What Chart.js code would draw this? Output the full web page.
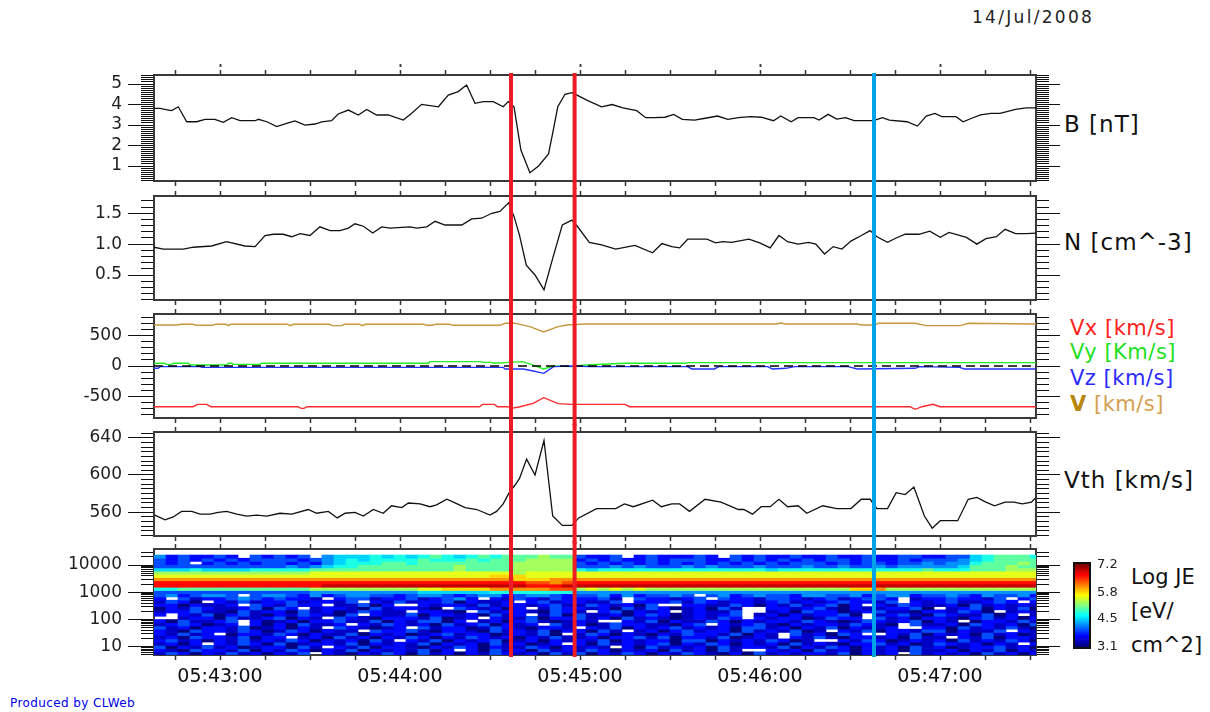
<!DOCTYPE html>
<html>
<head>
<meta charset="utf-8">
<script src="https://cdn.jsdelivr.net/npm/chart.js@4.4.1/dist/chart.umd.min.js"></script>
<style>
  html,body{margin:0;padding:0;background:#fff;}
  #page{position:relative;width:1210px;height:712px;overflow:hidden;background:#fff;font-family:'DejaVu Sans',sans-serif;}
  #page canvas{position:absolute;}
  .t{position:absolute;white-space:nowrap;line-height:1;}
</style>
</head>
<body>
<div id="page">
  <div class="t" style="left:972px;top:9px;font-size:17px;letter-spacing:2.3px;color:#222">14/Jul/2008</div>
  <div class="t" style="left:1064px;top:113px;font-size:23px;letter-spacing:1px;color:#111">B [nT]</div>
  <div class="t" style="left:1064px;top:231px;font-size:23px;letter-spacing:1px;color:#111">N [cm^-3]</div>
  <div class="t" style="left:1070px;top:318px;font-size:21px;letter-spacing:0.5px;color:#ff2020">Vx [km/s]</div>
  <div class="t" style="left:1070px;top:342px;font-size:21px;letter-spacing:0.5px;color:#22e022">Vy [Km/s]</div>
  <div class="t" style="left:1070px;top:368px;font-size:21px;letter-spacing:0.5px;color:#2a2aff">Vz [km/s]</div>
  <div class="t" style="left:1070px;top:394px;font-size:21px;letter-spacing:0.5px;color:#d4a050"><b style="color:#b8860b">V</b> [km/s]</div>
  <div class="t" style="left:1064px;top:469px;font-size:23px;letter-spacing:1px;color:#111">Vth [km/s]</div>
  <div class="t" style="left:1131px;top:567px;font-size:21px;color:#111">Log JE</div>
  <div class="t" style="left:1131px;top:601px;font-size:21px;color:#111">[eV/</div>
  <div class="t" style="left:1131px;top:635px;font-size:21px;color:#111">cm^2]</div>
  <div class="t" style="left:10px;top:697px;font-size:12px;letter-spacing:0.4px;color:#0000ee">Produced by CLWeb</div>
</div>
<script>
// ---------------- DATA ----------------
// time in seconds after 05:42:00
const timeTicks = [60, 120, 180, 240, 300];
const timeTickLabels = ['05:43:00', '05:44:00', '05:45:00', '05:46:00', '05:47:00'];

const bTime = [38,40,42.8,43.9,46.1,48.9,52.2,55,58.3,61.1,63.9,66.7,71.7,72.8,75.6,78.9,82.2,85,88.3,91.7,93.9,97.2,99.4,102.8,106.1,108.9,112.2,116.1,121.1,123.9,127.2,132.8,136.1,139.4,142.2,145,147.8,151.1,154.4,156.1,158,160.3,163.3,166.2,169.5,170.9,172.6,175,177.3,179,182.6,187.2,190.7,194.3,198.9,201.9,204.8,208.3,211.2,214.1,218.2,221.7,225.8,229.3,232.8,236.9,240.4,244.5,246.9,250.4,252.7,258,259.7,262.7,265.6,268.5,271.4,277.9,280.8,283.1,289,292.5,295.4,298.3,300.6,305.3,307.7,310.6,313.5,317,320,325.2,328.7,332];
const bVal = [3.81,3.81,3.73,3.70,3.89,3.16,3.16,3.28,3.28,3.13,3.36,3.21,3.21,3.28,3.16,2.92,3.08,3.20,3.00,3.05,3.15,3.21,3.54,3.73,3.49,3.76,3.49,3.49,3.24,3.57,4.01,3.89,4.46,4.63,4.95,4.06,4.14,4.14,3.89,4.14,3.89,1.78,0.67,1.0,1.59,2.6,3.89,4.5,4.58,4.46,4.19,3.89,4.0,3.84,3.7,3.36,3.36,3.38,3.52,3.28,3.24,3.33,3.44,3.28,3.36,3.41,3.38,3.21,3.44,3.16,3.36,3.36,3.24,3.52,3.29,3.36,3.21,3.21,3.36,3.24,3.16,2.95,3.44,3.57,3.41,3.41,3.16,3.33,3.49,3.57,3.57,3.76,3.84,3.84];
const bTicks = [1, 2, 3, 4, 5];
const bTickLabels = ['1', '2', '3', '4', '5'];

const nTime = [38,41.1,47.8,51.1,57.2,62.2,68.3,71.7,75,77.8,81.1,83.9,86.7,90,93.3,96.7,100,102.8,105,107.8,110.9,113.9,116.7,123.3,125.6,128.9,131.7,135,140.6,143.9,147.2,150.6,153.3,156.2,158,159.8,162.1,165,168,170.9,174.1,177.3,179.1,183.1,187.2,191.9,198.3,204.2,207.3,210.6,213.2,215.9,222.3,225.2,227.6,230.5,236.3,239.9,243.4,246.3,249.2,252.7,256.2,258.6,261.5,264.4,267.3,270.3,273.8,276.7,279,282.5,285.4,288.4,293,296.6,300.1,303,308.8,312.3,315.3,318.8,321.7,325.2,328.7,332];
const nVal = [0.95,0.92,0.92,0.95,0.97,1.04,0.97,0.96,1.14,1.16,1.16,1.12,1.17,1.14,1.28,1.22,1.22,1.26,1.33,1.29,1.18,1.28,1.26,1.28,1.26,1.28,1.37,1.31,1.31,1.41,1.42,1.50,1.53,1.67,1.45,1.15,0.66,0.50,0.26,0.77,1.31,1.39,1.29,1.03,0.99,0.92,0.98,0.86,1.01,0.96,0.94,1.08,1.08,1.02,1.04,1.03,1.08,1.02,0.94,1.14,1.04,1.0,1.03,1.0,0.84,0.96,0.92,1.05,1.14,1.22,1.12,1.03,1.10,1.16,1.16,1.21,1.11,1.19,1.11,1.0,1.09,1.12,1.24,1.17,1.17,1.18];
const nTicks = [0.5, 1.0, 1.5];
const nTickLabels = ['0.5', '1.0', '1.5'];

const vTime = [38,46,47,51,52,57.5,58.5,62,62.8,63.5,82.5,83.5,84.5,96.5,97.5,100.5,101.5,106.5,107.5,108.5,127.8,128.8,130.8,131.8,136.5,137.5,153.3,155,157.8,160,163.3,167.9,172.7,175.6,181.6,245.6,247,248.5,272.4,273.9,278,279.5,291.7,295.4,306.6,309.6,332];
const vVal = [672,672,683,683,667,667,683,683,661,683,683,661,683,683,661,661,683,683,661,683,683,667,667,683,683,667,667,700,705,683,645,557,645,672,689,689,705,689,689,672,672,700,700,661,661,700,689];
const vxTime = [38,51,52.5,55.5,57,86,87,88,89,146.5,147.5,151.5,152.5,156,157.2,160,164.4,167.9,172.7,177.1,195,196.5,290,291.7,294,297.7,300,332];
const vxVal = [-667,-667,-628,-628,-667,-667,-694,-694,-667,-667,-628,-628,-667,-667,-694,-667,-612,-519,-617,-628,-628,-667,-667,-710,-667,-628,-667,-667];
const vyTime = [38,41.5,42.2,43.9,44.5,49.5,50,62.2,62.8,64,64.4,73.3,73.8,129.4,130,146.7,147.8,150.6,151.1,155,160.8,163.7,167.9,171.2,177.1,181.6,195,215,216,332];
const vyVal = [44,44,27,27,44,44,16,16,44,44,27,27,44,44,71,71,60,60,44,55,71,27,-49,0,-11,16,44,44,55,55];
const vzTime = [38,39.4,40,53.3,54,154.4,155,161.1,164.4,167.9,171.2,177.1,183.1,215.8,217.3,224.8,226.3,242.6,244.1,248.6,251.5,269.4,272.4,291.7,293.2,306.6,308.1,332];
const vzVal = [-38,-38,-11,-11,-22,-22,-49,-49,-82,-120,-11,0,-11,-11,-49,-49,-11,-11,-49,-38,-11,-11,-49,-38,-11,-22,-49,-49];
const vTicks = [-500, 0, 500];
const vTickLabels = ['-500', '0', '500'];

const vthTime = [38.3,41.7,44.4,47.2,50.6,53.3,56.7,59.4,62.2,65.6,68.9,72.2,75.6,80,83.9,89.4,92.2,96.1,99.1,101.7,105,107.8,111.1,114.4,117.2,120.6,122.8,126.7,130,132.2,135.6,137.8,141.7,145.6,150,152.2,154.4,156.4,158.3,159.8,162.2,165,168,170.9,174.1,177.3,179.6,185.5,191.9,194.8,197.8,204.2,207.1,210.6,213.2,216.5,221.7,227,232.8,234.6,237.5,240.4,243.4,246.3,249.2,252.7,255.6,260.9,265.6,270.3,273.8,276.7,279,282.5,285.4,288.4,291.3,294.8,297.4,300.1,305.9,309.4,312.3,315.3,318.2,321.7,324.6,327.5,330.5,332];
const vthVal = [557,552,555,561,561,558,558,560,561,558,556,557,556,559,558,563,559,561,554,559,560,556,563,559,567,565,570,569,566,568,574,571,565,563,557,561,569,581,589,596,617,600,637,556,546,546,554,564,564,569,566,573,566,569,569,561,574,571,563,563,558,566,566,574,566,567,559,567,564,564,574,574,564,564,581,579,587,556,543,551,551,574,576,571,567,571,571,569,571,576];
const vthTicks = [560, 600, 640];
const vthTickLabels = ['560', '600', '640'];

// spectrogram: column centre times, energy channel centres (eV), log JE coded 0-f per cell ('.' = no data)
const specTime = [40,44,48,52,56,60,64,68,72,76,80,84,88,92,96,100,104,108,112,116,120,124,128,132,136,140,144,148,152,156,160,164,168,172,176,180,184,188,192,196,200,204,208,212,216,220,224,228,232,236,240,244,248,252,256,260,264,268,272,276,280,284,288,292,296,300,304,308,312,316,320,324,328,332];
const energyCenters = [20300,15500,11800,8970,6830,5200,3960,3010,2290,1745,1330,1010,770,586,446,340,258,197,150,114,86.7,66,50.2,38.3,29.1,22.2,16.9,12.8,9.8,7.4,5.7];
const specRows = [
 "4232232.32 323.455565 6567656767 77877 3223.23222 32.3232232 2322322332 233567776",
 "3232323233 3323456566 6676667677 78888 2323223233 3223232323 2332322323 334567777",
 "323.232323 3232456667 7677777777 88888 3232323232 3232323233 3232332334 344677787",
 "3333333333 3434566777 7777787777 88888 3334343334 3433343334 3343343444 445777877",
 "5556555566 6667777777 7777787777 88888 6566666666 6666665666 6666666667 666777888",
 "8888888888 8889999999 9999999999 89999 9999999999 9999999999 9999999999 999999999",
 "9999999999 9999999999 99999999aa a9999 9999999999 9999999999 9999999999 999999999",
 "bbbbbbbbbb bbbbbbbbbb bbbbbbbbbb aaabb bbbbbbbbbb bbbbbbbbbb bbbbbbbbbb bbbbbbbbb",
 "dddddddddd dddddddddd dddddddddd dccbc dddddddddd dddddddddd dddddddddd ddddddddd",
 "dddddddddd ddddeeeeee eeeeeeeeee eddde eeeeeeeeee eeeeeeeeee eeeeeeeeee eeeeeeeee",
 "6677777777 7778888888 8899aaaabb bbbcc 8989898888 8888888888 888aab8888 888888888",
 "3333333333 3334444444 4455555566 66666 4444444444 4444444444 4444444444 444444444",
 "3423443.34 4324234433 2344323442 34432 3342423343 .342343324 4334234423 343243342",
 "2.31223432 3221.23312 2312342.21 32132 2231.32212 3.32213321 2312332.12 232213.23",
 "1320.21312 2312213.21 3122302112 .2312 2113.22231 3212212312 1232213.21 2311232.2",
 "2202112.32 1322.11302 ..21221312 21231 1321203..2 2113202131 2302.21321 120312121",
 "0213211230 32.1221031 2210.32120 2.132 2120313201 2031..2212 3102112230 .12302130",
 "1223110312 2031201321 1.2210.312 21032 1.230212.1 2113..1203 2201231102 21320.121",
 "2.21302310 2132103.21 1302212031 2.130 3112023201 2123.12021 2230.12310 3211302.1",
 "..12203112 3021.32102 2213012.21 13022 3120312101 2132.21220 1322.31202 210231202",
 "2031123.20 1202231130 213302.120 23101 21..213021 1320212213 2101321230 21.022131",
 "1232012.20 203112.213 2120312302 12.31 2013221102 3.21231021 2213210.31 120321203",
 "3120221301 2021.32101 2.31220132 10221 .213021231 2120331202 1302112..2 203121310",
 "2103221320 1320211.32 2310221031 21302 2031.12023 1220312130 1.21302213 302113.21",
 "21312.0221 3202113021 2012312201 2130. 1320210213 2213021.31 2032..2130 212031201",
 "1203221302 2.12031202 1320213212 02131 1202231302 2130121.21 3102212031 1.2130221",
 "2312021312 1320212031 .213021230 12021 2130212203 3021213201 ..21320121 203121320",
 "1202.21320 3012213021 2130212031 2012. 2031212302 1320212031 2102231201 3212021.2",
 "3021312012 2031.21302 2102132021 13202 121.203121 2031221302 1320212031 201223120",
 "2103221302 1320213021 21302.2031 20312 1320212031 2031..2120 3120212031 120213021",
 "1320213120 213.210213 2031202132 12031 3021320213 2102031212 2130212.31 212031202"
];
const specTicks = [10, 100, 1000, 10000];
const specTickLabels = ['10', '100', '1000', '10000'];
const cbTicks = [3.1, 4.5, 5.8, 7.2];
const cbTickLabels = ['3.1', '4.5', '5.8', '7.2'];
const logJEMin = 3.1, logJEMax = 7.2;

const markers = [
  {t: 157, color: '#ed1c24'},
  {t: 178.2, color: '#ed1c24'},
  {t: 278, color: '#00a2e8'}
];

// ---------------- RENDERING ----------------
Chart.defaults.font.family = "'DejaVu Sans', sans-serif";
const XMIN = 38, XMAX = 332;
const tick15 = []; for (let s = 45; s <= 330; s += 15) tick15.push(s);

function makeCanvas(left, top, w, h) {
  const c = document.createElement('canvas');
  c.width = w; c.height = h;
  c.style.left = left + 'px'; c.style.top = top + 'px';
  c.style.width = w + 'px'; c.style.height = h + 'px';
  document.getElementById('page').appendChild(c);
  return c;
}
const fixedWidth = w => s => { s.width = w; };
const fixedHeight = h => s => { s.height = h; };
const BORDER = {display: true, color: '#3a3a3a', width: 2};

function jet(n) {
  n = Math.max(0, Math.min(1, n));
  const c = x => Math.round(255 * Math.max(0, Math.min(1, x)));
  return 'rgb(' + c(1.5 - Math.abs(4 * n - 3)) + ',' + c(1.5 - Math.abs(4 * n - 2)) + ',' + c(1.5 - Math.abs(4 * n - 1)) + ')';
}

const markerPlugin = {
  id: 'markers',
  defaults: {ext: [8, 8]},
  afterDatasetsDraw(chart, args, opts) {
    const {ctx, chartArea} = chart;
    const x = chart.scales.x;
    ctx.save();
    ctx.lineWidth = 4;
    for (const m of markers) {
      const px = x.getPixelForValue(m.t);
      ctx.strokeStyle = m.color;
      ctx.beginPath();
      ctx.moveTo(px, chartArea.top - opts.ext[0]);
      ctx.lineTo(px, chartArea.bottom + opts.ext[1]);
      ctx.stroke();
    }
    ctx.restore();
  }
};

function xAxes(withLabels, minuteDots) {
  const common = {
    type: 'linear', min: XMIN, max: XMAX, bounds: 'data', offset: false,
    afterBuildTicks: s => { s.ticks = tick15.map(v => ({value: v})); },
    grid: {drawOnChartArea: false, offset: false, drawTicks: true, tickLength: 5, tickColor: '#333', tickWidth: 1.5},
    border: BORDER
  };
  const axes = {
    x: Object.assign({}, common, {
      position: 'bottom', afterFit: fixedHeight(withLabels ? 42 : 8),
      ticks: withLabels ? {display: true, autoSkip: false, maxRotation: 0, minRotation: 0, padding: 6, color: '#111', font: {size: 19},
        callback: v => { const i = timeTicks.indexOf(v); return i >= 0 ? timeTickLabels[i] : ''; }} : {display: false}
    }),
    x2: Object.assign({}, common, {position: 'top', weight: 0, afterFit: fixedHeight(8), ticks: {display: false}})
  };
  if (minuteDots) {
    axes.x3 = {type: 'linear', min: XMIN, max: XMAX, bounds: 'data', offset: false, position: 'top', weight: 1,
      afterFit: fixedHeight(0),
      afterBuildTicks: s => { s.ticks = timeTicks.map(v => ({value: v})); },
      grid: {drawOnChartArea: false, offset: false, drawTicks: true, tickLength: 3, tickColor: '#444', tickWidth: 2},
      border: {display: false}, ticks: {display: false}};
  }
  return axes;
}

function yAxes(cfg) {
  const base = {type: cfg.type || 'linear', min: cfg.min, max: cfg.max, bounds: 'data'};
  const setT = arr => s => { s.ticks = arr.map(v => ({value: v})); };
  return {
    y: Object.assign({}, base, {position: 'left', weight: 1, afterFit: fixedWidth(100), afterBuildTicks: setT(cfg.major),
      grid: {drawOnChartArea: false, drawTicks: true, tickLength: 26, tickColor: '#111', tickWidth: 1},
      border: BORDER,
      ticks: {display: true, autoSkip: false, padding: 6, color: '#1e1e1e', font: {size: 17}, callback: (v, i) => cfg.labels[i]}}),
    yMinL: Object.assign({}, base, {position: 'left', weight: 0, afterFit: fixedWidth(0), afterBuildTicks: setT(cfg.minor),
      grid: {drawOnChartArea: false, drawTicks: true, tickLength: 13, tickColor: '#111', tickWidth: 1},
      border: {display: false}, ticks: {display: false}}),
    yR: Object.assign({}, base, {position: 'right', weight: 1, afterFit: fixedWidth(30), afterBuildTicks: setT(cfg.major),
      grid: {drawOnChartArea: false, drawTicks: true, tickLength: 24, tickColor: '#111', tickWidth: 1},
      border: BORDER, ticks: {display: false}}),
    yMinR: Object.assign({}, base, {position: 'right', weight: 0, afterFit: fixedWidth(0), afterBuildTicks: setT(cfg.minor),
      grid: {drawOnChartArea: false, drawTicks: true, tickLength: 13, tickColor: '#111', tickWidth: 1},
      border: {display: false}, ticks: {display: false}})
  };
}

function panel(top, bottom, isLast, type, datasets, yCfg, ext, minuteDots) {
  const xh = isLast ? 42 : 8;
  const cTop = top - 18;
  const cH = bottom + xh + 10 - cTop;
  const canvas = makeCanvas(0, cTop, 1210, cH);
  return new Chart(canvas, {
    type: type,
    data: {datasets: datasets},
    options: {
      responsive: false, animation: false, events: [],
      layout: {padding: {left: 54, right: 144, top: 10, bottom: 10}},
      plugins: {legend: {display: false}, tooltip: {enabled: false}, markers: {ext: ext}},
      scales: Object.assign({}, xAxes(isLast, minuteDots), yAxes(yCfg))
    },
    plugins: [markerPlugin]
  });
}

function steps(a, b, st) { const r = []; for (let v = a; v <= b + 1e-9; v += st) r.push(Math.round(v * 1000) / 1000); return r; }
const pts = (ts, vs) => ts.map((t, i) => ({x: t, y: vs[i]}));
const lineDs = (ts, vs, color, w) => ({data: pts(ts, vs), borderColor: color, borderWidth: w || 1.3, pointRadius: 0, tension: 0, fill: false, xAxisID: 'x', yAxisID: 'y'});

// Panel 1: B
panel(75, 181, false, 'line', [lineDs(bTime, bVal, '#111')],
  {min: 0.27, max: 5.44, major: bTicks, labels: bTickLabels, minor: steps(0.3, 5.4, 0.1)}, [2, 8], true);

// Panel 2: N
panel(196, 300, false, 'line', [lineDs(nTime, nVal, '#111')],
  {min: 0.095, max: 1.78, major: nTicks, labels: nTickLabels, minor: steps(0.1, 1.7, 0.1)}, [8, 8]);

// Panel 3: velocity
panel(314, 418, false, 'line', [
  {data: [{x: XMIN, y: 0}, {x: XMAX, y: 0}], borderColor: '#000', borderWidth: 1.6, borderDash: [9, 5], pointRadius: 0, xAxisID: 'x', yAxisID: 'y'},
  lineDs(vzTime, vzVal, '#2233ff', 1.4),
  lineDs(vyTime, vyVal, '#22ee22', 1.4),
  lineDs(vxTime, vxVal, '#ff2a2a', 1.4),
  lineDs(vTime, vVal, '#c8963e', 1.4)
], {min: -852, max: 852, major: vTicks, labels: vTickLabels, minor: steps(-800, 800, 100)}, [8, 8]);

// Panel 4: Vth
panel(432, 536, false, 'line', [lineDs(vthTime, vthVal, '#111')],
  {min: 534.6, max: 646.1, major: vthTicks, labels: vthTickLabels, minor: steps(535, 645, 5)}, [8, 8]);

// Panel 5: spectrogram (floating bars on a log energy axis)
const specMinor = [];
[1, 10, 100, 1000, 10000].forEach(dec => { for (let d = 1; d <= 9; d++) { const v = d * dec; if (v > 4.95 && v < 38700) specMinor.push(v); } });
const specDatasets = specRows.map((row, r) => {
  const cells = row.replace(/ /g, '');
  const c = energyCenters[r];
  const up = r > 0 ? energyCenters[r - 1] : c * c / energyCenters[r + 1];
  const dn = r < energyCenters.length - 1 ? energyCenters[r + 1] : c * c / energyCenters[r - 1];
  const hi = Math.sqrt(c * up), lo = Math.sqrt(c * dn);
  const data = [], colors = [];
  for (let k = 0; k < specTime.length; k++) {
    const ch = cells[k];
    if (!ch || ch === '.') continue;
    const logJE = logJEMin + parseInt(ch, 16) / 15 * (logJEMax - logJEMin);
    data.push({x: specTime[k], y: [lo, hi]});
    colors.push(jet((logJE - logJEMin) / (logJEMax - logJEMin)));
  }
  return {data: data, backgroundColor: colors, borderWidth: 0, grouped: false, barPercentage: 1, categoryPercentage: 1, xAxisID: 'x', yAxisID: 'y'};
});
panel(549, 655, true, 'bar', specDatasets,
  {type: 'logarithmic', min: 4.95, max: 38700, major: specTicks, labels: specTickLabels, minor: specMinor}, [8, 2]);

// Colour bar
const cbCanvas = makeCanvas(1060, 545, 80, 120);
const cbSegs = [];
const cbLo = 3.03, cbHi = 7.30, nSeg = 80;
for (let i = 0; i < nSeg; i++) {
  const a = cbLo + (cbHi - cbLo) * i / nSeg, b = cbLo + (cbHi - cbLo) * (i + 1) / nSeg;
  cbSegs.push({data: [[a, b]], backgroundColor: jet(((a + b) / 2 - logJEMin) / (logJEMax - logJEMin)), borderWidth: 0, grouped: false, barPercentage: 1, categoryPercentage: 1});
}
new Chart(cbCanvas, {
  type: 'bar',
  data: {labels: [''], datasets: cbSegs},
  options: {
    responsive: false, animation: false, events: [],
    layout: {padding: {left: 14, right: 10, top: 18, bottom: 17}},
    plugins: {legend: {display: false}, tooltip: {enabled: false}},
    scales: {
      x: {display: false},
      y: {position: 'right', min: cbLo, max: cbHi, bounds: 'data', afterFit: fixedWidth(40),
        afterBuildTicks: s => { s.ticks = cbTicks.map(v => ({value: v})); },
        grid: {display: false, drawTicks: false}, border: {display: false},
        ticks: {padding: 7, color: '#222', font: {size: 13}, callback: (v, i) => cbTickLabels[i]}}
    }
  },
  plugins: [{id: 'frame', afterDraw(chart) { const {ctx, chartArea: a} = chart; ctx.save(); ctx.strokeStyle = '#111'; ctx.lineWidth = 2; ctx.strokeRect(a.left, a.top, a.right - a.left, a.bottom - a.top); ctx.restore(); }}]
});
</script>
</body>
</html>
